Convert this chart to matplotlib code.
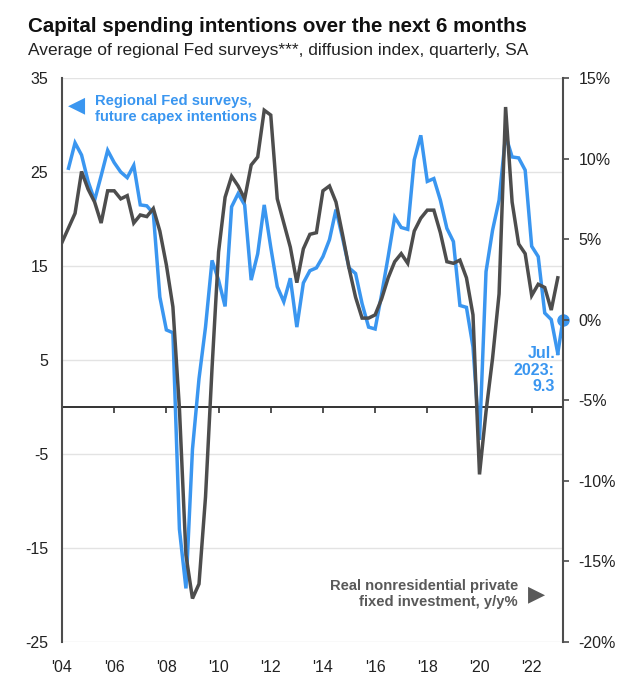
import matplotlib.pyplot as plt
import numpy as np

plt.rcParams['font.family'] = ['Liberation Sans', 'DejaVu Sans']

# quarterly data, 2004Q1 .. 2023Q1
start_year = 2004
capex_blue = [25.4, 28.1, 26.8, 24.0, 22.0, 24.6, 27.3, 26.0, 25.0, 24.4,
              25.7, 21.5, 21.4, 20.6, 11.7, 8.2, 7.9, -13.0, -19.3, -4.5,
              3.0, 8.5, 15.6, 13.5, 10.7, 21.3, 22.7, 21.5, 13.5, 16.3,
              21.5, 17.0, 12.8, 11.2, 13.7, 8.5, 13.2, 14.5, 14.8, 16.0,
              17.8, 21.0, 18.0, 14.8, 14.2, 11.0, 8.5, 8.3, 12.0, 16.0,
              20.2, 19.1, 18.9, 26.3, 28.9, 24.0, 24.3, 22.0, 19.0, 17.6,
              10.8, 10.6, 6.4, -3.5, 14.4, 18.8, 22.0, 28.9, 26.6, 26.5,
              25.2, 17.1, 16.0, 10.0, 9.3, 5.7]          # starts 2004Q2
invest_gray = [4.8, 5.7, 6.6, 9.2, 8.1, 7.3, 6.0, 8.0, 8.0, 7.5,
               7.7, 6.0, 6.5, 6.4, 6.9, 5.5, 3.4, 0.8, -5.5, -14.6,
               -17.3, -16.4, -11.0, -3.0, 4.2, 7.6, 8.9, 8.3, 7.5, 9.6,
               10.1, 13.0, 12.7, 7.5, 6.0, 4.5, 2.3, 4.4, 5.3, 5.4,
               8.0, 8.3, 7.3, 5.3, 3.2, 1.4, 0.1, 0.1, 0.3, 1.3,
               2.6, 3.6, 4.1, 3.5, 5.5, 6.3, 6.8, 6.8, 5.4, 3.6,
               3.5, 3.7, 2.6, 0.3, -9.6, -5.7, -2.4, 1.6, 13.2, 7.3,
               4.7, 4.1, 1.5, 2.2, 2.0, 0.6, 2.6]        # starts 2004Q1
latest_value = 9.3
year_ticks = list(range(2004, 2023, 2))
year_labels = ["'%02d" % (y % 100) for y in year_ticks]
left_ticks = [35, 25, 15, 5, -5, -15, -25]
right_ticks = [15, 10, 5, 0, -5, -10, -15, -20]

blue = '#3A96F0'
gray = '#4D4D4D'

x_gray = start_year + np.arange(len(invest_gray)) / 4
x_blue = start_year + (np.arange(len(capex_blue)) + 1) / 4
x_end = 2023.2

fig = plt.figure(figsize=(6.4, 6.84), dpi=100)
ax = fig.add_axes([62 / 640, 1 - 642 / 684, 501 / 640, 564 / 684])

ax.set_ylim(-25, 35)
ax.set_xlim(start_year, x_end)
ax.set_yticks(left_ticks)
ax.set_yticklabels([str(t) for t in left_ticks])
ax.grid(axis='y', color='#e3e3e3', linewidth=1)
ax.set_axisbelow(True)
ax.axhline(0, color='#333333', linewidth=1.4, zorder=1)
ax.set_xticks(year_ticks)
ax.set_xticklabels(year_labels)
ax.tick_params(axis='x', length=0, pad=13, labelsize=11.5, labelcolor='#222222')
ax.tick_params(axis='y', length=0, pad=10, labelsize=11.5, labelcolor='#222222')
for s in ['top', 'bottom', 'right']:
    ax.spines[s].set_visible(False)
ax.spines['left'].set_color(gray)
ax.spines['left'].set_linewidth(1.5)

# tick marks along the zero line
sec = ax.secondary_xaxis(25 / 60)
sec.set_xticks(year_ticks)
sec.tick_params(axis='x', direction='out', length=4, width=1.2,
                color='#333333', labelbottom=False)
sec.spines['bottom'].set_visible(False)

ax.plot(x_blue, capex_blue, color=blue, linewidth=2.5, solid_joinstyle='miter')
ax.plot([x_blue[-1], x_end], [capex_blue[-1], latest_value], color=blue, linewidth=2.5)
ax.plot([x_end], [latest_value], 'o', color=blue, markersize=8, clip_on=False, zorder=5)

ax2 = ax.twinx()
ax2.set_ylim(-20, 15)
ax2.set_yticks(right_ticks)
ax2.set_yticklabels(['%d%%' % t for t in right_ticks])
ax2.plot(x_gray, invest_gray, color=gray, linewidth=2.5, solid_joinstyle='miter')
ax2.tick_params(axis='y', direction='out', length=4, width=1.2, color=gray,
                pad=7, labelsize=11.5, labelcolor='#222222')
for s in ['top', 'bottom', 'left']:
    ax2.spines[s].set_visible(False)
ax2.spines['right'].set_color(gray)
ax2.spines['right'].set_linewidth(1.5)
ax2.set_xlim(start_year, x_end)

# titles
fig.text(28 / 640, 1 - 26 / 684, 'Capital spending intentions over the next 6 months',
         fontsize=14.8, fontweight='bold', color='#111111', va='center', ha='left')
fig.text(28 / 640, 1 - 51 / 684, 'Average of regional Fed surveys***, diffusion index, quarterly, SA',
         fontsize=12.5, color='#222222', va='center', ha='left')

# series labels
fig.text(95 / 640, 1 - 109 / 684, 'Regional Fed surveys,\nfuture capex intentions',
         fontsize=10.6, fontweight='bold', color=blue, va='center', ha='left', linespacing=1.15)
fig.text(77 / 640, 1 - 105 / 684, '\u25C0', fontsize=16, color=blue,
         va='center', ha='center', family='DejaVu Sans')
fig.text(518 / 640, 1 - 594 / 684, 'Real nonresidential private\nfixed investment, y/y%',
         fontsize=10.6, fontweight='bold', color='#595959', va='center', ha='right',
         linespacing=1.12)
fig.text(537 / 640, 1 - 594 / 684, '\u25B6', fontsize=16, color='#595959',
         va='center', ha='center', family='DejaVu Sans')
fig.text(555 / 640, 1 - 370 / 684, 'Jul.\n2023:\n%.1f' % latest_value,
         fontsize=11.5, fontweight='bold', color=blue, va='center', ha='right',
         linespacing=1.12)

fig.savefig('out.png', dpi=100)
